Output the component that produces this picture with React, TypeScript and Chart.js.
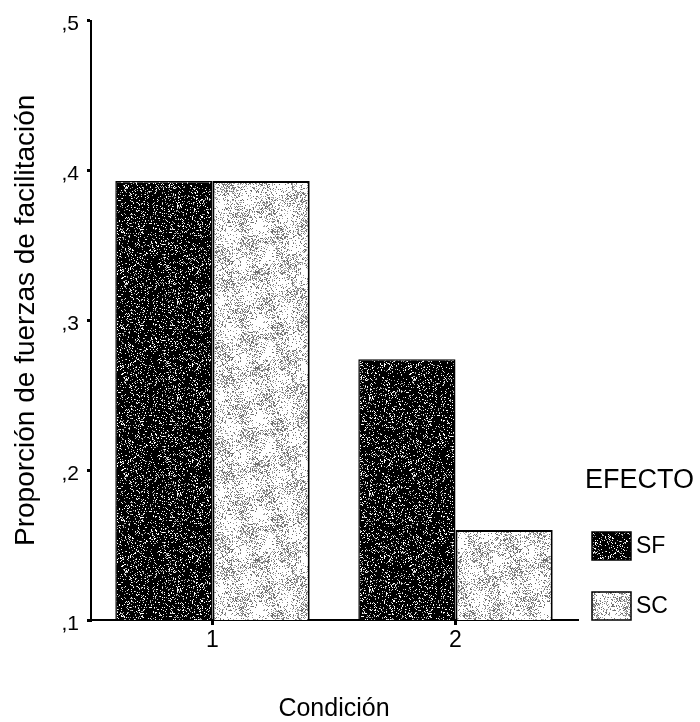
import React, { useEffect, useRef } from "react";
import { Chart, registerables } from "chart.js";

Chart.register(...registerables);

const categories = ["1", "2"];
const seriesLabels = ["SF", "SC"];
const sfValues = [0.393, 0.274];
const scValues = [0.393, 0.16];
const yTickValues = [0.1, 0.2, 0.3, 0.4, 0.5];
const yTickLabels = [",1", ",2", ",3", ",4", ",5"];
const xTitle = "Condición";
const yTitle = "Proporción de fuerzas de facilitación";
const legendTitle = "EFECTO";

const FONT = "'Liberation Sans', Arial, Helvetica, sans-serif";

function hash(x: number, y: number, seed: number) {
  const s = Math.sin(x * 12.9898 + y * 78.233 + seed * 37.719) * 43758.5453;
  return s - Math.floor(s);
}

function makePattern(dark: boolean): CanvasPattern | string {
  const size = 96;
  const c = document.createElement("canvas");
  c.width = size;
  c.height = size;
  const ctx = c.getContext("2d");
  if (!ctx) return dark ? "#111" : "#ddd";
  const img = ctx.createImageData(size, size);
  const T = (2 * Math.PI) / size;
  for (let y = 0; y < size; y++) {
    for (let x = 0; x < size; x++) {
      const blob =
        0.5 +
        0.5 * Math.sin(T * (2 * x + y)) * Math.cos(T * (x - 2 * y));
      const n = hash(x, y, dark ? 1 : 2);
      let v: number;
      if (dark) {
        v = n > 0.87 - 0.08 * blob ? (hash(x, y, 5) > 0.5 ? 255 : 170) : 0;
      } else {
        const p = 0.08 + 0.4 * blob;
        v = n < p ? (hash(x, y, 7) > 0.5 ? 110 : 165) : 255;
      }
      const i = (y * size + x) * 4;
      img.data[i] = v;
      img.data[i + 1] = v;
      img.data[i + 2] = v;
      img.data[i + 3] = 255;
    }
  }
  ctx.putImageData(img, 0, 0);
  const main = document.createElement("canvas").getContext("2d");
  const pat = main ? main.createPattern(c, "repeat") : null;
  return pat || (dark ? "#111" : "#ddd");
}

const legendPlugin = {
  id: "efectoLegend",
  afterDraw(chart: any) {
    const ctx = chart.ctx as CanvasRenderingContext2D;
    const x0 = chart.chartArea.right + 8;
    ctx.save();
    ctx.fillStyle = "#000";
    ctx.textAlign = "left";
    ctx.textBaseline = "middle";
    ctx.font = `27px ${FONT}`;
    ctx.fillText(legendTitle, x0, 481);
    chart.data.datasets.forEach((ds: any, i: number) => {
      const by = 532 + i * 60;
      const bx = x0 + 7;
      ctx.fillStyle = ds.backgroundColor;
      ctx.fillRect(bx, by, 39, 28);
      ctx.strokeStyle = "#000";
      ctx.lineWidth = 1.5;
      ctx.strokeRect(bx, by, 39, 28);
      ctx.fillStyle = "#000";
      ctx.font = `23px ${FONT}`;
      ctx.fillText(ds.label, bx + 44, by + 15);
    });
    ctx.restore();
  },
};

export default function App() {
  const ref = useRef<HTMLCanvasElement | null>(null);

  useEffect(() => {
    if (!ref.current) return;
    const sfPat = makePattern(true);
    const scPat = makePattern(false);
    const chart = new Chart(ref.current, {
      type: "bar",
      data: {
        labels: categories,
        datasets: [
          {
            label: seriesLabels[0],
            data: sfValues,
            backgroundColor: sfPat as any,
            borderColor: "#000",
            borderWidth: 1.5,
            categoryPercentage: 0.8,
            barPercentage: 1.0,
          },
          {
            label: seriesLabels[1],
            data: scValues,
            backgroundColor: scPat as any,
            borderColor: "#000",
            borderWidth: 2,
            categoryPercentage: 0.8,
            barPercentage: 1.0,
          },
        ],
      },
      options: {
        responsive: false,
        animation: false,
        devicePixelRatio: 1,
        layout: { padding: { left: 0, top: 17, right: 123, bottom: 0 } },
        plugins: {
          legend: { display: false },
          tooltip: { enabled: false },
          title: { display: false },
        },
        scales: {
          x: {
            offset: true,
            grid: {
              display: true,
              offset: false,
              drawOnChartArea: false,
              drawTicks: true,
              tickLength: 5,
              tickWidth: 3,
              lineWidth: 3,
              tickColor: "#000",
              color: "#000",
            },
            border: { display: true, color: "#000", width: 2 },
            ticks: {
              color: "#000",
              font: { family: FONT, size: 23 },
              padding: 2,
            },
            title: {
              display: true,
              text: xTitle,
              color: "#000",
              font: { family: FONT, size: 25, lineHeight: 1 },
              padding: { top: 0, bottom: 0 },
            },
            afterFit: (scale: any) => {
              scale.height = 102;
            },
          },
          y: {
            min: 0.1,
            max: 0.5,
            grid: {
              display: true,
              drawOnChartArea: false,
              drawTicks: true,
              tickLength: 4,
              tickWidth: 3,
              lineWidth: 3,
              tickColor: "#000",
              color: "#000",
            },
            border: { display: true, color: "#000", width: 2 },
            afterBuildTicks: (scale: any) => {
              scale.ticks = yTickValues.map((v) => ({ value: v }));
            },
            ticks: {
              color: "#000",
              font: { family: FONT, size: 21 },
              padding: 8,
              labelOffset: 4,
              callback: (_v: any, i: number) => yTickLabels[i],
            },
            title: {
              display: true,
              text: yTitle,
              color: "#000",
              font: { family: FONT, size: 28, lineHeight: 1 },
              padding: { top: 12, bottom: 0 },
            },
            afterFit: (scale: any) => {
              scale.width = 91;
            },
          },
        },
      },
      plugins: [legendPlugin],
    });
    return () => chart.destroy();
  }, []);

  return (
    <div
      style={{
        position: "absolute",
        left: 0,
        top: 0,
        width: 700,
        height: 722,
        background: "#fff",
      }}
    >
      <canvas ref={ref} width={700} height={722} />
    </div>
  );
}
